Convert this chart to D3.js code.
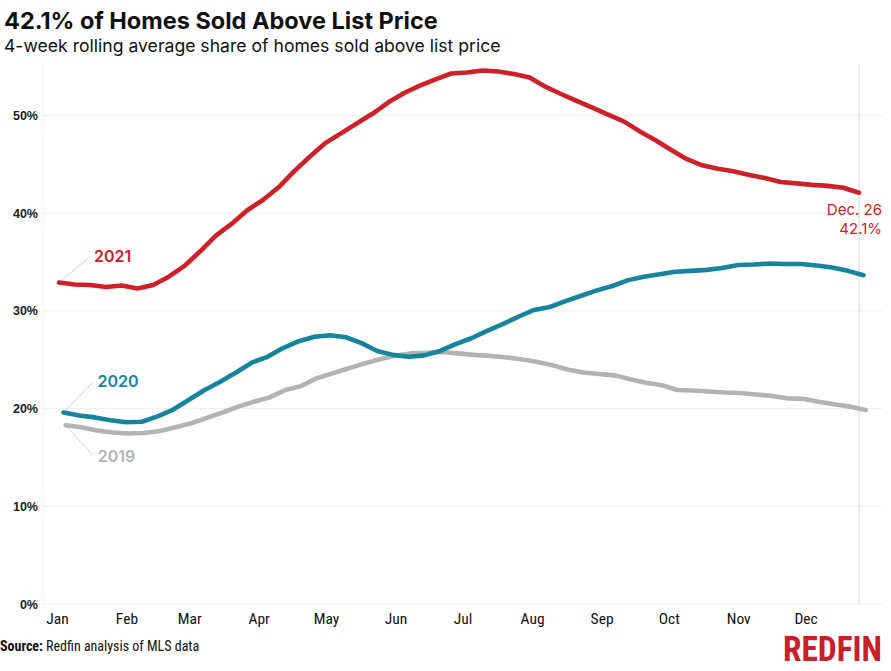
<!DOCTYPE html>
<html>
<head>
<meta charset="utf-8">
<script src="https://cdn.jsdelivr.net/npm/d3@7"></script>
<style>
  html, body { margin: 0; padding: 0; background: #fff; }
  svg { display: block; }
</style>
</head>
<body>
<svg id="chart" width="891" height="671"></svg>
<script>
// ---- DATA ----
const seriesNames = ["2019", "2020", "2021"];
const seriesStart = ["2019-01-06", "2020-01-05", "2021-01-03"]; // first week-ending date
const values2019 = [18.3,18.1,17.75,17.55,17.45,17.5,17.7,18.1,18.5,19.05,19.6,20.2,20.7,21.15,21.9,22.3,23.1,23.6,24.1,24.6,25.05,25.4,25.65,25.7,25.8,25.65,25.5,25.4,25.25,25.05,24.8,24.45,24.0,23.7,23.55,23.4,23.0,22.65,22.4,21.9,21.85,21.75,21.65,21.6,21.45,21.3,21.05,21.0,20.7,20.45,20.2,19.85];
const values2020 = [19.6,19.3,19.1,18.8,18.6,18.65,19.2,19.9,20.9,21.9,22.75,23.7,24.7,25.3,26.2,26.9,27.35,27.5,27.3,26.7,25.9,25.5,25.3,25.45,25.9,26.6,27.2,27.95,28.65,29.4,30.1,30.4,31.0,31.55,32.1,32.55,33.15,33.5,33.75,34.0,34.1,34.2,34.4,34.7,34.75,34.85,34.8,34.8,34.65,34.45,34.1,33.65];
const values2021 = [32.9,32.7,32.65,32.45,32.6,32.3,32.65,33.5,34.6,36.1,37.7,38.9,40.3,41.35,42.65,44.3,45.8,47.2,48.2,49.2,50.2,51.35,52.3,53.05,53.7,54.3,54.4,54.6,54.5,54.25,53.9,52.95,52.2,51.5,50.8,50.1,49.4,48.4,47.5,46.5,45.55,44.9,44.55,44.3,43.9,43.6,43.2,43.05,42.9,42.8,42.6,42.1];
const yTicks = [0, 10, 20, 30, 40, 50];
const monthLabels = ["Jan","Feb","Mar","Apr","May","Jun","Jul","Aug","Sep","Oct","Nov","Dec"];
const title = "42.1% of Homes Sold Above List Price";
const subtitle = "4-week rolling average share of homes sold above list price";
const sourceLabel = "Source:";
const sourceText = " Redfin analysis of MLS data";
const endLabel = ["Dec. 26", "42.1%"];

// ---- STYLE ----
const colors = { "2019": "#b3b3b3", "2020": "#16849f", "2021": "#cc2127" };
const svg = d3.select("#chart");
const parse = d3.timeParse("%Y-%m-%d");
const doy = d => d3.timeDay.count(d3.timeYear(d), d);

const x = d3.scaleLinear().domain([0, 365]).range([54.5, 872.5]);
const y = d3.scaleLinear().domain([0, 50]).range([604, 115.5]);

const allValues = { "2019": values2019, "2020": values2020, "2021": values2021 };
const series = seriesNames.map((name, k) => {
  const start = parse(seriesStart[k]);
  return {
    name,
    points: allValues[name].map((v, i) => ({ d: doy(d3.timeDay.offset(start, 7 * i)), v }))
  };
});

// Title
svg.append("text").attr("x", 4).attr("y", 29)
  .attr("font-family", "Inter, 'Open Sans', sans-serif").attr("font-weight", 700)
  .attr("font-size", 23.5).attr("fill", "#111").text(title);
svg.append("text").attr("x", 4).attr("y", 52)
  .attr("font-family", "Inter, 'Open Sans', sans-serif").attr("font-weight", 400)
  .attr("font-size", 17.6).attr("fill", "#111").text(subtitle);

// grid
const g = svg.append("g");
g.selectAll("line.grid").data(yTicks).join("line")
  .attr("x1", 43).attr("x2", 882)
  .attr("y1", d => y(d)).attr("y2", d => y(d))
  .attr("stroke", "#efefef").attr("stroke-width", 1);
g.append("line").attr("x1", 43).attr("x2", 43).attr("y1", 62).attr("y2", y(0))
  .attr("stroke", "#efefef");

// y labels
g.selectAll("text.ylab").data(yTicks).join("text")
  .attr("x", 38).attr("y", d => y(d) + 4.5)
  .attr("text-anchor", "end")
  .attr("font-family", "'Liberation Sans', Arial, sans-serif").attr("font-weight", 700)
  .attr("font-size", 12.5).attr("fill", "#222")
  .text(d => d + "%");

// x labels (month starts in 2021)
const monthDoy = monthLabels.map((m, i) => doy(new Date(2021, i, 1)));
g.selectAll("text.xlab").data(monthLabels).join("text")
  .attr("x", (m, i) => x(monthDoy[i]) + 3).attr("y", 624)
  .attr("text-anchor", "middle")
  .attr("font-family", "'Liberation Sans Narrow', 'Roboto Condensed', 'Liberation Sans', sans-serif")
  .attr("font-weight", 400)
  .attr("font-size", 15.5).attr("fill", "#111")
  .text(m => m);

// vertical marker at last 2021 point
const last = series[2].points[series[2].points.length - 1];
g.append("line").attr("x1", x(last.d)).attr("x2", x(last.d))
  .attr("y1", 64).attr("y2", y(0))
  .attr("stroke", "#dcdcdc").attr("stroke-width", 1.2);

// leader lines + labels
const labelInfo = [
  { name: "2021", dx: 30, dy: -25, tx: 35, ty: -21 },
  { name: "2020", dx: 29, dy: -30, tx: 34, ty: -26 },
  { name: "2019", dx: 27, dy: 30, tx: 32, ty: 37 }
];
labelInfo.forEach(l => {
  const s = series.find(s => s.name === l.name);
  const p = s.points[0];
  const px = x(p.d), py = y(p.v);
  g.append("line").attr("x1", px).attr("y1", py).attr("x2", px + l.dx).attr("y2", py + l.dy)
    .attr("stroke", "#d0d0d0").attr("stroke-width", 1);
  g.append("text").attr("x", px + l.tx).attr("y", py + l.ty)
    .attr("font-family", "Inter, 'Open Sans', sans-serif").attr("font-weight", 600)
    .attr("font-size", 16).attr("fill", colors[l.name]).text(l.name);
});

// lines
const line = d3.line().x(p => x(p.d)).y(p => y(p.v)).curve(d3.curveLinear);
g.selectAll("path.series").data(series).join("path")
  .attr("fill", "none")
  .attr("stroke", s => colors[s.name])
  .attr("stroke-width", 4.6)
  .attr("stroke-linecap", "round").attr("stroke-linejoin", "round")
  .attr("d", s => line(s.points));

// end label
endLabel.forEach((t, i) => {
  g.append("text").attr("x", 882).attr("y", y(last.v) + 22 + i * 19)
    .attr("text-anchor", "end")
    .attr("font-family", "Inter, 'Open Sans', sans-serif").attr("font-weight", 400)
    .attr("font-size", 15).attr("fill", colors["2021"]).text(t);
});

// source
const src = svg.append("text").attr("x", 0).attr("y", 651)
  .attr("font-family", "'Liberation Sans Narrow', 'Roboto Condensed', 'Liberation Sans', sans-serif")
  .attr("font-size", 14).attr("fill", "#111");
src.append("tspan").attr("font-weight", 700).text(sourceLabel);
src.append("tspan").text(sourceText);

// logo
svg.append("text").attr("x", 882).attr("y", 661).attr("text-anchor", "end")
  .attr("font-family", "'Liberation Sans Narrow', 'Roboto Condensed', sans-serif")
  .attr("font-weight", 700).attr("font-size", 35)
  .attr("fill", "#c8202a").attr("textLength", 99).attr("lengthAdjust", "spacingAndGlyphs")
  .text("REDFIN");
</script>
</body>
</html>
